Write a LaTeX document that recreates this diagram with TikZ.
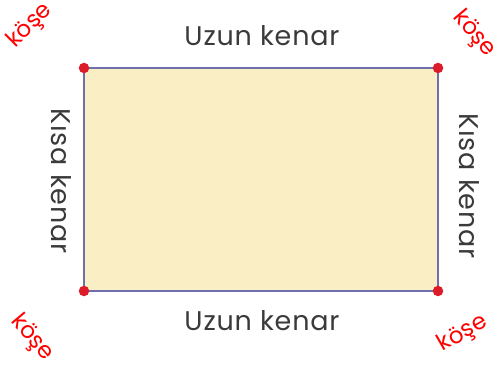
\documentclass[tikz,border=0pt]{standalone}
\usepackage{fontspec}
\setmainfont{Poppins}
\definecolor{rectfill}{HTML}{FAEEC5}
\definecolor{rectline}{HTML}{6F6FAF}
\definecolor{dotred}{HTML}{DD1C2A}
\definecolor{kred}{HTML}{FF0000}
\definecolor{txtgray}{HTML}{3A3A3A}
\begin{document}
\begin{tikzpicture}[x=1pt,y=-1pt,
  dot/.style={circle,fill=dotred,inner sep=0pt,minimum size=10.5pt},
  side/.style={font=\fontsize{27}{29}\selectfont\addfontfeature{LetterSpace=3},text=txtgray,inner sep=0pt},
  kose/.style={font=\fontsize{23}{25}\selectfont,text=kred,inner sep=0pt}]
\useasboundingbox (0,0) rectangle (498,374);
\coordinate (tl) at (84,68);
\coordinate (tr) at (438,68);
\coordinate (br) at (438,291);
\coordinate (bl) at (84,291);
\draw[rectline,line width=2.8pt,fill=rectfill] (tl) -- (tr) -- (br) -- (bl) -- cycle;
\node[dot] (dtl) at (tl) {};
\node[dot] (dtr) at (tr) {};
\node[dot] (dbr) at (br) {};
\node[dot] (dbl) at (bl) {};
\node[side] (top) at (262,36) {Uzun kenar};
\node[side] (bot) at (262,321) {Uzun kenar};
\node[side,rotate=-90] (left) at (61,181) {Kısa kenar};
\node[side,rotate=-90] (right) at (469,186) {Kısa kenar};
\node[kose,rotate=45] (k1) at (30,26) {köşe};
\node[kose,rotate=-50] (k2) at (474,34) {köşe};
\node[kose,rotate=-50] (k3) at (32,338) {köşe};
\node[kose,rotate=30] (k4) at (463,334) {köşe};
\end{tikzpicture}
\end{document}
